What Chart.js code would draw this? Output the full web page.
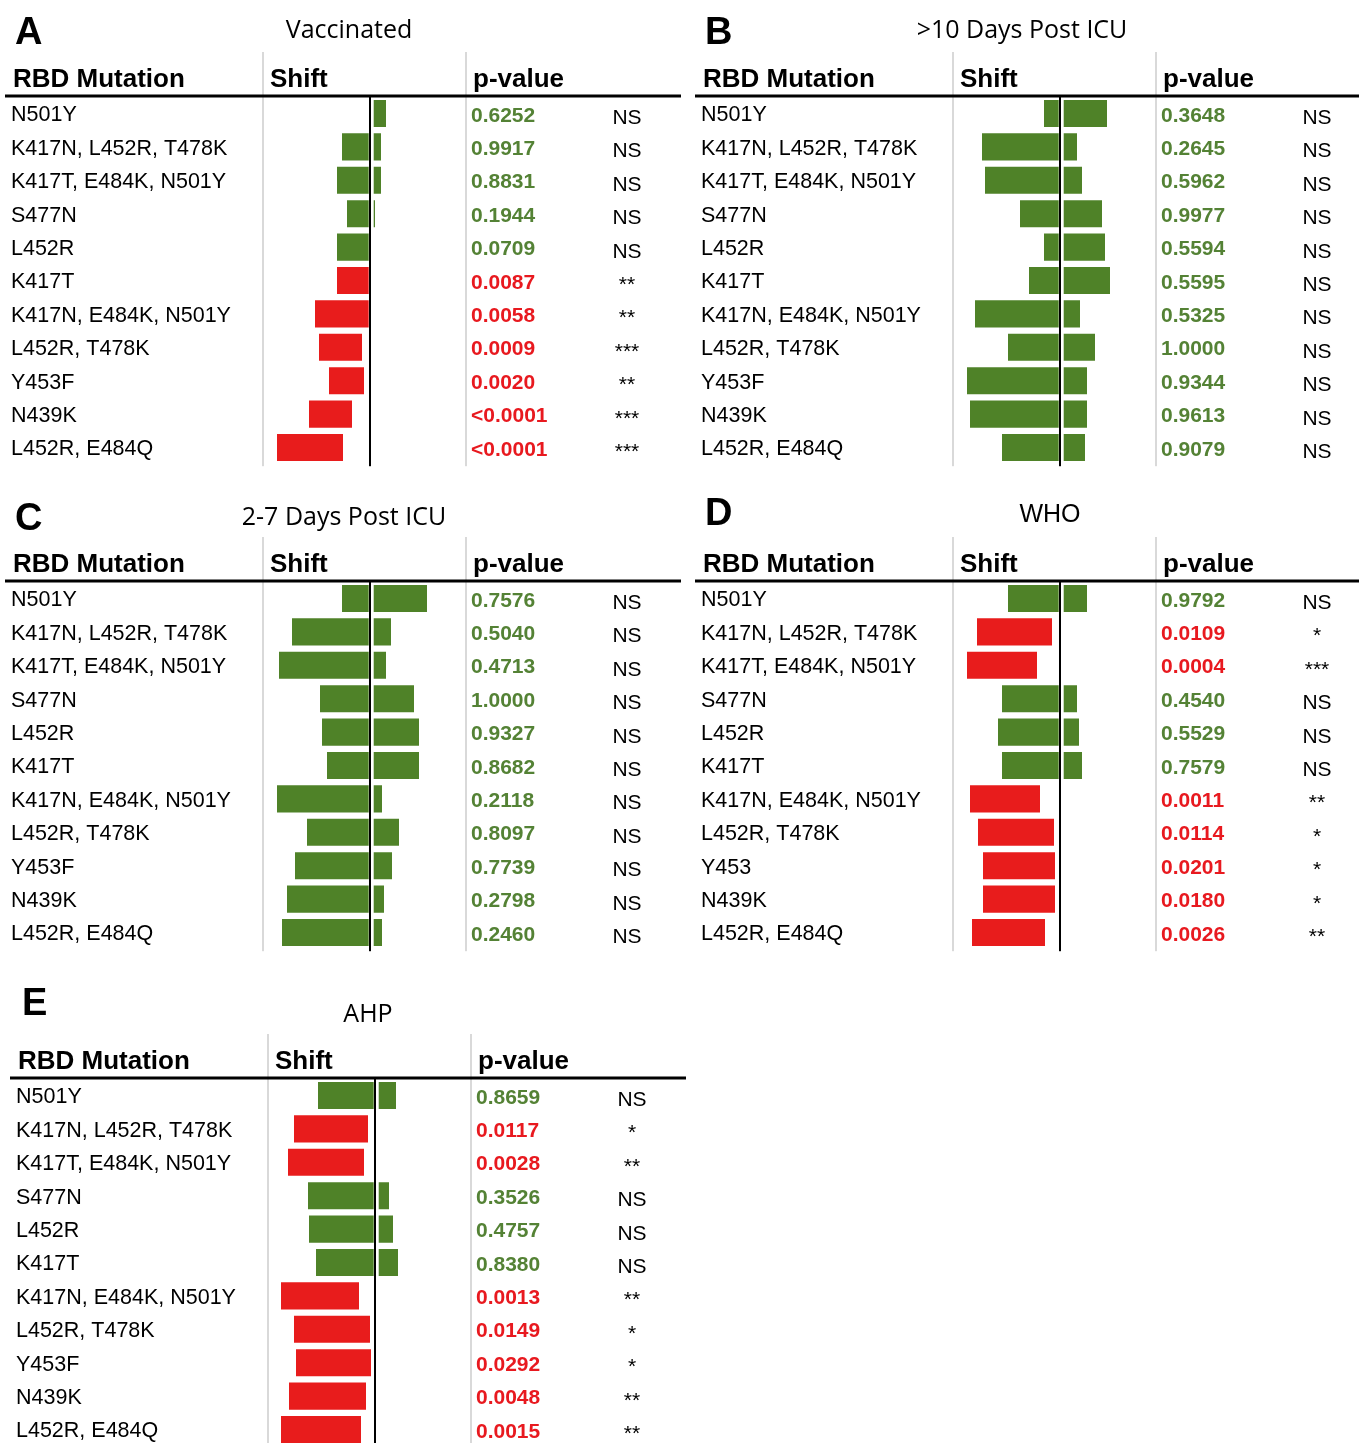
<!DOCTYPE html>
<html>
<head>
<meta charset="utf-8">
<title>RBD mutation shift tables</title>
<script src="https://cdn.jsdelivr.net/npm/chart.js@4.4.1/dist/chart.umd.min.js"></script>
<style>
  html, body { margin: 0; padding: 0; background: #fff; overflow: hidden; width: 1359px; height: 1443px; }
  canvas { position: absolute; }
</style>
</head>
<body>
<canvas id="panelA" width="690" height="485" style="left:0;top:0"></canvas>
<canvas id="panelB" width="690" height="485" style="left:690px;top:0"></canvas>
<canvas id="panelC" width="690" height="485" style="left:0;top:485px"></canvas>
<canvas id="panelD" width="690" height="485" style="left:690px;top:485px"></canvas>
<canvas id="panelE" width="690" height="485" style="left:5px;top:982px"></canvas>
<script>
// Row labels
const mutations = ['N501Y', 'K417N, L452R, T478K', 'K417T, E484K, N501Y', 'S477N', 'L452R', 'K417T',
  'K417N, E484K, N501Y', 'L452R, T478K', 'Y453F', 'N439K', 'L452R, E484Q'];
const mutationsWho = ['N501Y', 'K417N, L452R, T478K', 'K417T, E484K, N501Y', 'S477N', 'L452R', 'K417T',
  'K417N, E484K, N501Y', 'L452R, T478K', 'Y453', 'N439K', 'L452R, E484Q'];

// Shift bars as [start, end] (arbitrary shift units, 0 = no shift)
const shiftVaccinated = [[0, 16], [-28, 11], [-33, 11], [-23, 5], [-33, 0], [-33, 0], [-55, 0], [-51, -8], [-41, -6], [-61, -18], [-93, -27]];
const shiftLate = [[-16, 47], [-78, 17], [-75, 22], [-40, 42], [-16, 45], [-31, 50], [-85, 20], [-52, 35], [-93, 27], [-90, 27], [-58, 25]];
const shiftEarly = [[-28, 57], [-78, 21], [-91, 16], [-50, 44], [-48, 49], [-43, 49], [-93, 12], [-63, 29], [-75, 22], [-83, 14], [-88, 12]];
const shiftWho = [[-52, 27], [-83, -8], [-93, -23], [-58, 17], [-62, 19], [-58, 22], [-90, -20], [-82, -6], [-77, -5], [-77, -5], [-88, -15]];
const shiftAhp = [[-57, 21], [-81, -7], [-87, -11], [-67, 14], [-66, 18], [-59, 23], [-94, -16], [-81, -5], [-79, -4], [-86, -9], [-94, -14]];

// p-values and significance
const pVaccinated = ['0.6252', '0.9917', '0.8831', '0.1944', '0.0709', '0.0087', '0.0058', '0.0009', '0.0020', '<0.0001', '<0.0001'];
const sigVaccinated = ['NS', 'NS', 'NS', 'NS', 'NS', '**', '**', '***', '**', '***', '***'];
const pLate = ['0.3648', '0.2645', '0.5962', '0.9977', '0.5594', '0.5595', '0.5325', '1.0000', '0.9344', '0.9613', '0.9079'];
const sigLate = ['NS', 'NS', 'NS', 'NS', 'NS', 'NS', 'NS', 'NS', 'NS', 'NS', 'NS'];
const pEarly = ['0.7576', '0.5040', '0.4713', '1.0000', '0.9327', '0.8682', '0.2118', '0.8097', '0.7739', '0.2798', '0.2460'];
const sigEarly = ['NS', 'NS', 'NS', 'NS', 'NS', 'NS', 'NS', 'NS', 'NS', 'NS', 'NS'];
const pWho = ['0.9792', '0.0109', '0.0004', '0.4540', '0.5529', '0.7579', '0.0011', '0.0114', '0.0201', '0.0180', '0.0026'];
const sigWho = ['NS', '*', '***', 'NS', 'NS', 'NS', '**', '*', '*', '*', '**'];
const pAhp = ['0.8659', '0.0117', '0.0028', '0.3526', '0.4757', '0.8380', '0.0013', '0.0149', '0.0292', '0.0048', '0.0015'];
const sigAhp = ['NS', '*', '**', 'NS', 'NS', 'NS', '**', '*', '*', '**', '**'];

const GREEN = '#4f8228';
const RED = '#e81c1c';
const GREEN_TEXT = '#548235';
const RED_TEXT = '#e8191f';
const ARIAL = '"Liberation Sans", Arial, sans-serif';
const CALIBRI = '"Open Sans", "Liberation Sans", sans-serif';

// Per panel decoration (panel-local coordinates)
const panelInfo = {};

const panelDecor = {
  id: 'panelDecor',
  beforeDatasetsDraw(chart) {
    const ctx = chart.ctx;
    const area = chart.chartArea;
    ctx.save();
    ctx.fillStyle = '#d9d9d9';
    [263, 466].forEach(x => ctx.fillRect(x - 1, 52, 2, area.bottom + 2 - 52));
    ctx.restore();
  },
  afterDatasetsDraw(chart) {
    const info = panelInfo[chart.canvas.id];
    const ctx = chart.ctx;
    const area = chart.chartArea;
    const x0 = chart.scales.x.getPixelForValue(0);
    const yScale = chart.scales.y;
    ctx.save();

    // zero line with a small white gap next to it
    ctx.fillStyle = '#fff';
    ctx.fillRect(x0 - 1.3, area.top, 5, area.bottom - area.top + 2);
    ctx.fillStyle = '#000';
    ctx.fillRect(x0 - 1, area.top, 2, area.bottom - area.top + 2);

    // panel letter and title
    ctx.textBaseline = 'alphabetic';
    ctx.textAlign = 'left';
    ctx.font = 'bold 38px ' + ARIAL;
    ctx.fillText(info.letter, info.letterX, info.letterY);
    ctx.font = info.titleFont;
    ctx.textAlign = 'center';
    ctx.fillText(info.title, info.titleX, info.titleY);

    // column headers
    ctx.textAlign = 'left';
    ctx.font = 'bold 26px ' + ARIAL;
    ctx.fillText('RBD Mutation', 13, 87);
    ctx.fillText('Shift', 270, 87);
    ctx.fillText('p-value', 473, 87);
    ctx.fillRect(5, 94.5, info.lineEnd - 5, 3);

    // p-values and significance
    info.pvalues.forEach((p, i) => {
      const y = yScale.getPixelForValue(i);
      const ns = info.sig[i] === 'NS';
      ctx.font = 'bold 21px ' + ARIAL;
      ctx.fillStyle = ns ? GREEN_TEXT : RED_TEXT;
      ctx.textAlign = 'left';
      ctx.fillText(p, 471, y + 8);
      ctx.font = '21px ' + ARIAL;
      ctx.fillStyle = '#000';
      ctx.textAlign = 'center';
      ctx.fillText(info.sig[i], 627, y + 10.5);
    });
    ctx.restore();
  }
};

function makePanel(id, labels, shifts, pvalues, sig, decor) {
  panelInfo[id] = Object.assign({ pvalues, sig }, decor);
  const colors = sig.map(s => s === 'NS' ? GREEN : RED);
  return new Chart(document.getElementById(id), {
    type: 'bar',
    data: {
      labels: labels,
      datasets: [{
        data: shifts,
        backgroundColor: colors,
        borderWidth: 0,
        barPercentage: 0.81,
        categoryPercentage: 1
      }]
    },
    options: {
      indexAxis: 'y',
      responsive: false,
      animation: false,
      layout: { padding: { left: 11, right: 224, top: 96.8, bottom: 20.8 } },
      scales: {
        x: { display: false, min: -107, max: 96 },
        y: {
          grid: { display: false, drawTicks: false },
          border: { display: false },
          ticks: {
            autoSkip: false,
            crossAlign: 'far',
            padding: 0,
            labelOffset: 2,
            color: '#000',
            font: { family: ARIAL, size: 21.5 }
          },
          afterFit(scale) { scale.width = 252; }
        }
      },
      plugins: {
        legend: { display: false },
        tooltip: { enabled: false }
      }
    },
    plugins: [panelDecor]
  });
}

makePanel('panelA', mutations, shiftVaccinated, pVaccinated, sigVaccinated,
  { letter: 'A', letterX: 15, letterY: 44, title: 'Vaccinated', titleFont: '25px ' + CALIBRI, titleX: 349, titleY: 38, lineEnd: 681 });
makePanel('panelB', mutations, shiftLate, pLate, sigLate,
  { letter: 'B', letterX: 15, letterY: 44, title: '>10 Days Post ICU', titleFont: '25px ' + CALIBRI, titleX: 332, titleY: 38, lineEnd: 669 });
makePanel('panelC', mutations, shiftEarly, pEarly, sigEarly,
  { letter: 'C', letterX: 15, letterY: 45, title: '2-7 Days Post ICU', titleFont: '25px ' + CALIBRI, titleX: 344, titleY: 40, lineEnd: 681 });
makePanel('panelD', mutationsWho, shiftWho, pWho, sigWho,
  { letter: 'D', letterX: 15, letterY: 40, title: 'WHO', titleFont: '25px ' + ARIAL, titleX: 360, titleY: 37, lineEnd: 669 });
makePanel('panelE', mutations, shiftAhp, pAhp, sigAhp,
  { letter: 'E', letterX: 17, letterY: 33, title: 'AHP', titleFont: '25px ' + CALIBRI, titleX: 363, titleY: 40, lineEnd: 681 });
</script>
</body>
</html>
